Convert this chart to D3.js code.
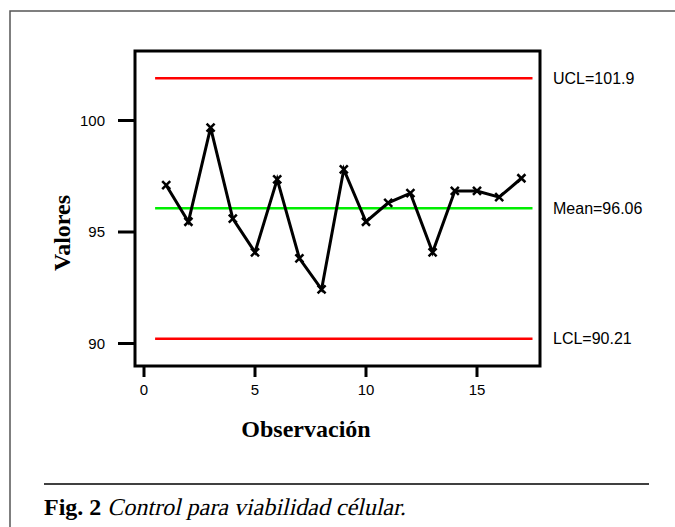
<!DOCTYPE html>
<html lang="es">
<head>
<meta charset="UTF-8">
<title>Control chart</title>
<script src="https://d3js.org/d3.v7.min.js"></script>
<style>
  body { margin: 0; background: #fff; }
  svg { display: block; }
</style>
</head>
<body>
<div id="chart"></div>
<script>
// observations and measured values
var observations = [1, 2, 3, 4, 5, 6, 7, 8, 9, 10, 11, 12, 13, 14, 15, 16, 17];
var values = [97.1, 95.46, 99.68, 95.6, 94.09, 97.36, 93.82, 92.43, 97.81, 95.46, 96.31, 96.74, 94.09, 96.84, 96.84, 96.56, 97.41];
var limitNames = ["UCL", "Mean", "LCL"];
var limitValues = [101.9, 96.06, 90.21];
var limitColors = ["#ff0000", "#00ee00", "#ff0000"];
var xTicks = [0, 5, 10, 15];
var yTicks = [90, 95, 100];

var W = 675, H = 527;
var svg = d3.select("#chart").append("svg")
    .attr("width", W).attr("height", H);

// outer frame (top and left edges)
svg.append("path")
    .attr("d", "M10,527V11H675")
    .attr("fill", "none")
    .attr("stroke", "#555")
    .attr("stroke-width", 1.5);

var plot = {left: 135, top: 51, right: 540, bottom: 366};

var x = d3.scaleLinear().domain([0, 1]).range([144, 166.2]);
var y = d3.scaleLinear().domain([90, 100]).range([343.5, 120.5]);

var sans = "'Liberation Sans', Arial, sans-serif";
var serif = "'Liberation Serif', 'DejaVu Serif', serif";

// plot box
svg.append("rect")
    .attr("x", plot.left).attr("y", plot.top)
    .attr("width", plot.right - plot.left)
    .attr("height", plot.bottom - plot.top)
    .attr("fill", "none")
    .attr("stroke", "#000")
    .attr("stroke-width", 3);

// y axis ticks
var yAxis = svg.append("g");
yAxis.selectAll("line").data(yTicks).enter().append("line")
    .attr("x1", 118).attr("x2", plot.left)
    .attr("y1", function(d) { return y(d); })
    .attr("y2", function(d) { return y(d); })
    .attr("stroke", "#000").attr("stroke-width", 3);
yAxis.selectAll("text").data(yTicks).enter().append("text")
    .attr("x", 105)
    .attr("y", function(d) { return y(d); })
    .attr("dy", "0.35em")
    .attr("text-anchor", "end")
    .style("font", "15px " + sans)
    .text(function(d) { return d; });

// x axis ticks
var xAxis = svg.append("g");
xAxis.selectAll("line").data(xTicks).enter().append("line")
    .attr("x1", function(d) { return x(d); })
    .attr("x2", function(d) { return x(d); })
    .attr("y1", plot.bottom).attr("y2", 377)
    .attr("stroke", "#000").attr("stroke-width", 3);
xAxis.selectAll("text").data(xTicks).enter().append("text")
    .attr("x", function(d) { return x(d); })
    .attr("y", 395)
    .attr("text-anchor", "middle")
    .style("font", "15px " + sans)
    .text(function(d) { return d; });

// control limits
limitValues.forEach(function(v, i) {
    svg.append("line")
        .attr("x1", x(0.5)).attr("x2", x(17.5))
        .attr("y1", y(v)).attr("y2", y(v))
        .attr("stroke", limitColors[i])
        .attr("stroke-width", 2.5);
    svg.append("text")
        .attr("x", 553)
        .attr("y", y(v))
        .attr("dy", "0.35em")
        .style("font", "16px " + sans)
        .text(limitNames[i] + "=" + v);
});

// data line
var pts = observations.map(function(o, i) { return [x(o), y(values[i])]; });
svg.append("path")
    .attr("d", d3.line()(pts))
    .attr("fill", "none")
    .attr("stroke", "#000")
    .attr("stroke-width", 3)
    .attr("stroke-linejoin", "miter");

// x markers
var s = 4;
svg.append("g").selectAll("path").data(pts).enter().append("path")
    .attr("d", function(p) {
        return "M" + (p[0] - s) + "," + (p[1] - s) + "L" + (p[0] + s) + "," + (p[1] + s) +
               "M" + (p[0] - s) + "," + (p[1] + s) + "L" + (p[0] + s) + "," + (p[1] - s);
    })
    .attr("stroke", "#000")
    .attr("stroke-width", 2.5);

// axis titles
svg.append("text")
    .attr("transform", "translate(70,233) rotate(-90)")
    .attr("text-anchor", "middle")
    .style("font", "bold 24px " + serif)
    .text("Valores");

svg.append("text")
    .attr("x", 306).attr("y", 437)
    .attr("text-anchor", "middle")
    .style("font", "bold 24px " + serif)
    .text("Observación");

// caption
svg.append("line")
    .attr("x1", 44).attr("x2", 649)
    .attr("y1", 484).attr("y2", 484)
    .attr("stroke", "#000").attr("stroke-width", 1.5);

var figLabel = svg.append("text")
    .attr("x", 44).attr("y", 515)
    .style("font", "bold 24px " + serif)
    .text("Fig. 2");
var capX = 44 + figLabel.node().getComputedTextLength() + 6;
// serif italic face is not installed, so slant the regular face
svg.append("text")
    .attr("transform", "translate(" + capX + ",515) skewX(-13)")
    .style("font", "24px " + serif)
    .text("Control para viabilidad célular.");
</script>
</body>
</html>
